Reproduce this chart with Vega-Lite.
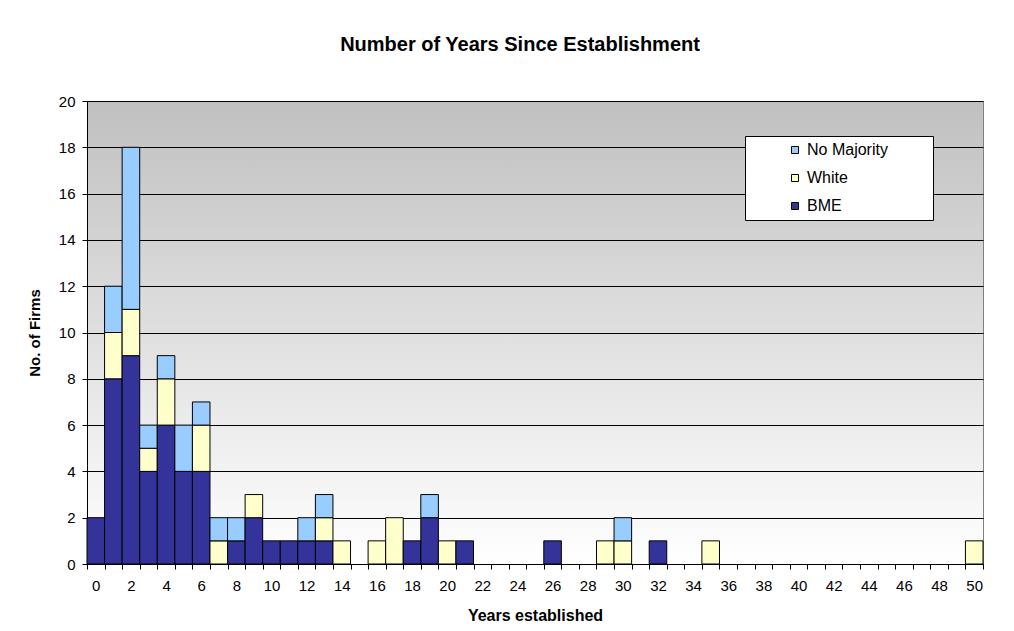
{
  "$schema": "https://vega.github.io/schema/vega-lite/v6.json",
  "width": 896,
  "height": 463,
  "autosize": "none",
  "padding": {"left": 87, "top": 101, "right": 31, "bottom": 67},
  "background": "white",
  "title": {
    "text": "Number of Years Since Establishment",
    "font": "Liberation Sans",
    "fontSize": 20,
    "fontWeight": "bold",
    "color": "black",
    "offset": 39,
    "dx": -15
  },
  "data": {
    "values": [
      {"years": 0, "group": "BME", "count": 2},
      {"years": 1, "group": "BME", "count": 8},
      {"years": 1, "group": "White", "count": 2},
      {"years": 1, "group": "No Majority", "count": 2},
      {"years": 2, "group": "BME", "count": 9},
      {"years": 2, "group": "White", "count": 2},
      {"years": 2, "group": "No Majority", "count": 7},
      {"years": 3, "group": "BME", "count": 4},
      {"years": 3, "group": "White", "count": 1},
      {"years": 3, "group": "No Majority", "count": 1},
      {"years": 4, "group": "BME", "count": 6},
      {"years": 4, "group": "White", "count": 2},
      {"years": 4, "group": "No Majority", "count": 1},
      {"years": 5, "group": "BME", "count": 4},
      {"years": 5, "group": "No Majority", "count": 2},
      {"years": 6, "group": "BME", "count": 4},
      {"years": 6, "group": "White", "count": 2},
      {"years": 6, "group": "No Majority", "count": 1},
      {"years": 7, "group": "White", "count": 1},
      {"years": 7, "group": "No Majority", "count": 1},
      {"years": 8, "group": "BME", "count": 1},
      {"years": 8, "group": "No Majority", "count": 1},
      {"years": 9, "group": "BME", "count": 2},
      {"years": 9, "group": "White", "count": 1},
      {"years": 10, "group": "BME", "count": 1},
      {"years": 11, "group": "BME", "count": 1},
      {"years": 12, "group": "BME", "count": 1},
      {"years": 12, "group": "No Majority", "count": 1},
      {"years": 13, "group": "BME", "count": 1},
      {"years": 13, "group": "White", "count": 1},
      {"years": 13, "group": "No Majority", "count": 1},
      {"years": 14, "group": "White", "count": 1},
      {"years": 16, "group": "White", "count": 1},
      {"years": 17, "group": "White", "count": 2},
      {"years": 18, "group": "BME", "count": 1},
      {"years": 19, "group": "BME", "count": 2},
      {"years": 19, "group": "No Majority", "count": 1},
      {"years": 20, "group": "White", "count": 1},
      {"years": 21, "group": "BME", "count": 1},
      {"years": 26, "group": "BME", "count": 1},
      {"years": 29, "group": "White", "count": 1},
      {"years": 30, "group": "White", "count": 1},
      {"years": 30, "group": "No Majority", "count": 1},
      {"years": 32, "group": "BME", "count": 1},
      {"years": 35, "group": "White", "count": 1},
      {"years": 50, "group": "White", "count": 1}
    ]
  },
  "transform": [
    {"calculate": "indexof(['BME','White','No Majority'], datum.group)", "as": "stackOrder"}
  ],
  "mark": {"type": "bar", "stroke": "black", "strokeWidth": 1},
  "encoding": {
    "x": {
      "field": "years",
      "type": "ordinal",
      "scale": {
        "domain": [0,1,2,3,4,5,6,7,8,9,10,11,12,13,14,15,16,17,18,19,20,21,22,23,24,25,26,27,28,29,30,31,32,33,34,35,36,37,38,39,40,41,42,43,44,45,46,47,48,49,50],
        "paddingInner": 0,
        "paddingOuter": 0
      },
      "axis": {
        "title": "Years established",
        "titleFontSize": 16,
        "labelFontSize": 15,
        "labelAngle": 0,
        "labelExpr": "datum.value % 2 == 0 ? datum.label : ''",
        "labelOverlap": false,
        "tickBand": "extent",
        "labelPadding": 9,
        "titlePadding": 14
      }
    },
    "y": {
      "field": "count",
      "type": "quantitative",
      "stack": "zero",
      "scale": {"domain": [0, 20], "nice": false},
      "axis": {
        "title": "No. of Firms",
        "titleFontSize": 15,
        "labelFontSize": 15,
        "values": [0,2,4,6,8,10,12,14,16,18,20],
        "grid": true,
        "labelPadding": 7,
        "titlePadding": 16
      }
    },
    "color": {
      "field": "group",
      "type": "nominal",
      "scale": {
        "domain": ["No Majority", "White", "BME"],
        "range": ["#99CCFF", "#FFFFCC", "#333399"]
      },
      "legend": {
        "title": null,
        "orient": "none",
        "legendX": 658,
        "legendY": 35,
        "labelExpr": "datum.label + '      \u2800'"
      }
    },
    "order": {"field": "stackOrder", "type": "quantitative"}
  },
  "config": {
    "view": {
      "fill": {
        "gradient": "linear",
        "x1": 0, "y1": 0, "x2": 0, "y2": 1,
        "stops": [
          {"offset": 0, "color": "#C0C0C0"},
          {"offset": 1, "color": "#FFFFFF"}
        ]
      },
      "stroke": "#808080",
      "strokeWidth": 1
    },
    "axis": {
      "labelFont": "Liberation Sans",
      "labelColor": "black",
      "titleFont": "Liberation Sans",
      "titleFontWeight": "bold",
      "titleColor": "black",
      "domainColor": "black",
      "domainWidth": 1,
      "tickColor": "black",
      "tickSize": 5,
      "gridColor": "black",
      "gridOpacity": 1,
      "gridWidth": 1
    },
    "legend": {
      "fillColor": "white",
      "strokeColor": "black",
      "padding": 6,
      "rowPadding": 12,
      "symbolType": "square",
      "symbolSize": 49,
      "symbolStrokeColor": "black",
      "symbolStrokeWidth": 1,
      "symbolOpacity": 1,
      "symbolOffset": 36,
      "labelFont": "Liberation Sans",
      "labelFontSize": 16,
      "labelColor": "black",
      "labelOffset": 4
    }
  }
}
